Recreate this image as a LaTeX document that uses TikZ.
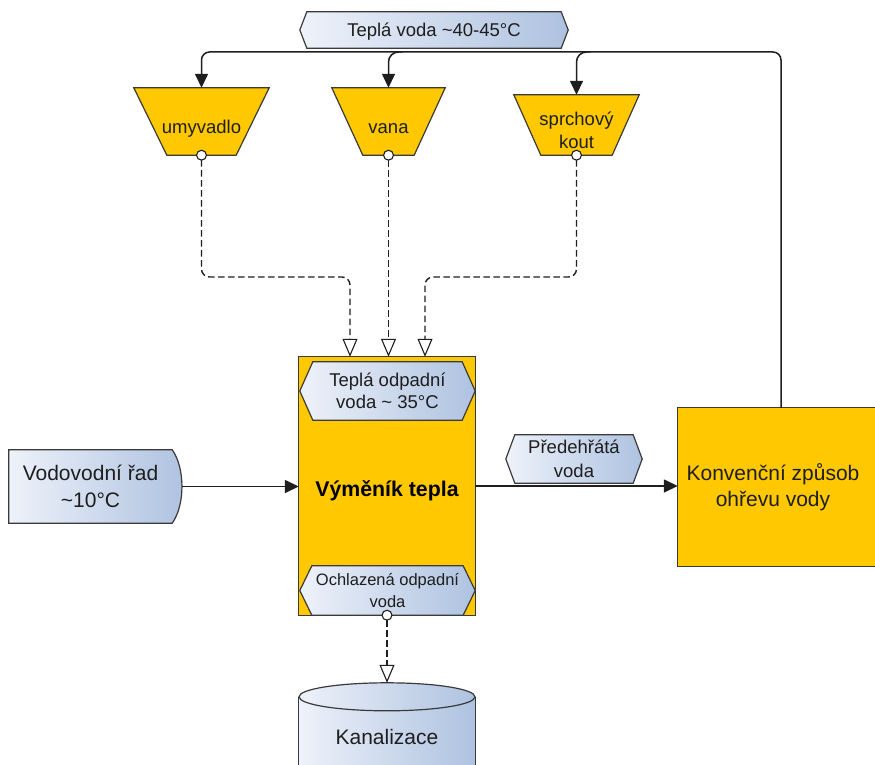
\documentclass[tikz,border=0pt]{standalone}
\usepackage{fontspec}
\setmainfont{Liberation Sans}
\usetikzlibrary{arrows.meta,calc}
\pgfdeclarelayer{bgA}
\pgfdeclarelayer{bgB}
\pgfsetlayers{bgA,bgB,main}
\definecolor{gold}{HTML}{FFC800}
\definecolor{edge}{HTML}{3A3A3A}
\definecolor{gl}{HTML}{EEF2FA}
\definecolor{gr}{HTML}{AEC2E0}
\definecolor{ink}{HTML}{1E1E1E}
\newcommand\hexshape[2]{\draw[bluefill] (#1.west) -- ($(#1.north west)+(#2,0)$) -- ($(#1.north east)+(-#2,0)$) -- (#1.east) -- ($(#1.south east)+(-#2,0)$) -- ($(#1.south west)+(#2,0)$) -- cycle;}
\newcommand\trapshape[2]{\draw[goldfill] (#1.north west) -- (#1.north east) -- ($(#1.south east)+(-#2,0)$) -- ($(#1.south west)+(#2,0)$) -- cycle;}
\tikzset{
  lbl/.style={font=\fontsize{18.5pt}{23pt}\selectfont, text=ink, align=center, inner sep=0pt},
  big/.style={font=\fontsize{21pt}{27pt}\selectfont, text=ink, align=center, inner sep=0pt},
  goldfill/.style={fill=gold, draw=edge, line width=1.2pt},
  bluefill/.style={left color=gl, right color=gr, draw=edge, line width=1.2pt},
  flow/.style={draw=ink, line width=1.5pt, -{Triangle[length=14pt,width=13pt]}},
  dflow/.style={draw=ink, line width=1.4pt, dash pattern=on 6.5pt off 3.5pt,
    {Circle[fill=white,length=11pt,width=11pt,line width=1.1pt]}-{Triangle[fill=white,length=18pt,width=15pt,line width=1.1pt]},
    shorten <=-5.5pt, rounded corners=8pt},
}
\begin{document}
\begin{tikzpicture}[x=1pt,y=-1pt]
\useasboundingbox (0,0) rectangle (875,765);
\coordinate (bus) at (0,52);
\coordinate (dashy) at (0,277);
% nodes
\node[lbl, minimum width=268pt, minimum height=36pt] (tv) at (434,30) {\rule{0pt}{17.5pt}Teplá voda \textasciitilde40-45°C};
\node[lbl, minimum width=135pt, minimum height=67pt] (u) at (201.5,121.5) {\rule{0pt}{27pt}umyvadlo};
\node[lbl, minimum width=113pt, minimum height=67pt] (v) at (388.5,121.5) {\rule{0pt}{24pt}vana};
\node[lbl, minimum width=125pt, minimum height=60pt] (s) at (576.5,125) {\rule{0pt}{24pt}sprchový\\kout};
\node[minimum width=176pt, minimum height=258pt, inner sep=0pt, font=\bfseries\fontsize{21.3pt}{26pt}\selectfont, text=black] (exch) at (387,486) {\rule{0pt}{26pt}Výměník tepla};
\node[lbl, font=\fontsize{18.5pt}{22.5pt}\selectfont, minimum width=175pt, minimum height=58pt] (tod) at (387.5,391) {Teplá odpadní\\voda \textasciitilde{} 35°C};
\node[lbl, font=\fontsize{16.5pt}{22pt}\selectfont, minimum width=175pt, minimum height=49pt] (och) at (387.5,590.5) {Ochlazená odpadní\\voda};
\node[big, font=\fontsize{21pt}{27.5pt}\selectfont, minimum width=163pt, minimum height=73pt] (vod) at (90.5,486.5) {Vodovodní řad\\\textasciitilde10°C};
\node[lbl, font=\fontsize{18.5pt}{24pt}\selectfont, minimum width=136pt, minimum height=48pt] (pred) at (574,459) {Předehřátá\\voda};
\node[big, font=\fontsize{21pt}{26pt}\selectfont, minimum width=206pt, minimum height=158pt] (konv) at (781,487) {\hspace*{-16pt}Konvenční způsob\\\hspace*{-16pt}ohřevu vody};
\node[big, minimum width=176pt, minimum height=108pt] (kan) at (387,737) {Kanalizace};
% shapes
\begin{pgfonlayer}{bgA}
  \hexshape{tv}{7}
  \trapshape{u}{33}
  \trapshape{v}{31}
  \trapshape{s}{27}
  \draw[goldfill] (exch.north west) rectangle (exch.south east);
  \draw[goldfill] (konv.north west) rectangle (konv.south east);
  \hexshape{pred}{9}
  \draw[bluefill] (vod.north west) -- (vod.north east) .. controls ($(vod.north east)+(13,18)$) and ($(vod.south east)+(13,-18)$) .. (vod.south east) -- (vod.south west) -- cycle;
  \shade[left color=gl, right color=gr] ($(kan.north west)+(0,14)$) rectangle (kan.south east);
  \draw[edge, line width=1.2pt] ($(kan.north west)+(0,14)$) -- (kan.south west);
  \draw[edge, line width=1.2pt] ($(kan.north east)+(0,14)$) -- (kan.south east);
  \draw[bluefill] ($(kan.north)+(0,14)$) ellipse [x radius=88pt, y radius=14pt];
\end{pgfonlayer}
\begin{pgfonlayer}{bgB}
  \hexshape{tod}{13}
  \hexshape{och}{12}
\end{pgfonlayer}
% hot water distribution
\draw[flow, rounded corners=8pt] (konv.north) -- (konv.north |- bus) -- (u |- bus) -- (u);
\draw[flow, rounded corners=10pt] ($(v |- bus)+(14,0)$) -| (v);
\draw[flow, rounded corners=10pt] ($(s |- bus)+(14,0)$) -| (s);
% waste water
\draw[dflow] (u.south) -- (u.south |- dashy) -- ($(exch.north |- dashy)+(-37,0)$) -- ($(exch.north)+(-37,0)$);
\draw[dflow] (v.south) -- (v.south |- exch.north);
\draw[dflow] (s.south) -- (s.south |- dashy) -- ($(exch.north |- dashy)+(38,0)$) -- ($(exch.north)+(38,0)$);
\draw[dflow] (exch.south) -- (kan.north);
% main flow
\draw[flow, shorten <=10pt] (vod.east) -- (exch.west |- vod.east);
\draw[flow] (exch.east) -- (exch.east -| konv.west);
\end{tikzpicture}
\end{document}
